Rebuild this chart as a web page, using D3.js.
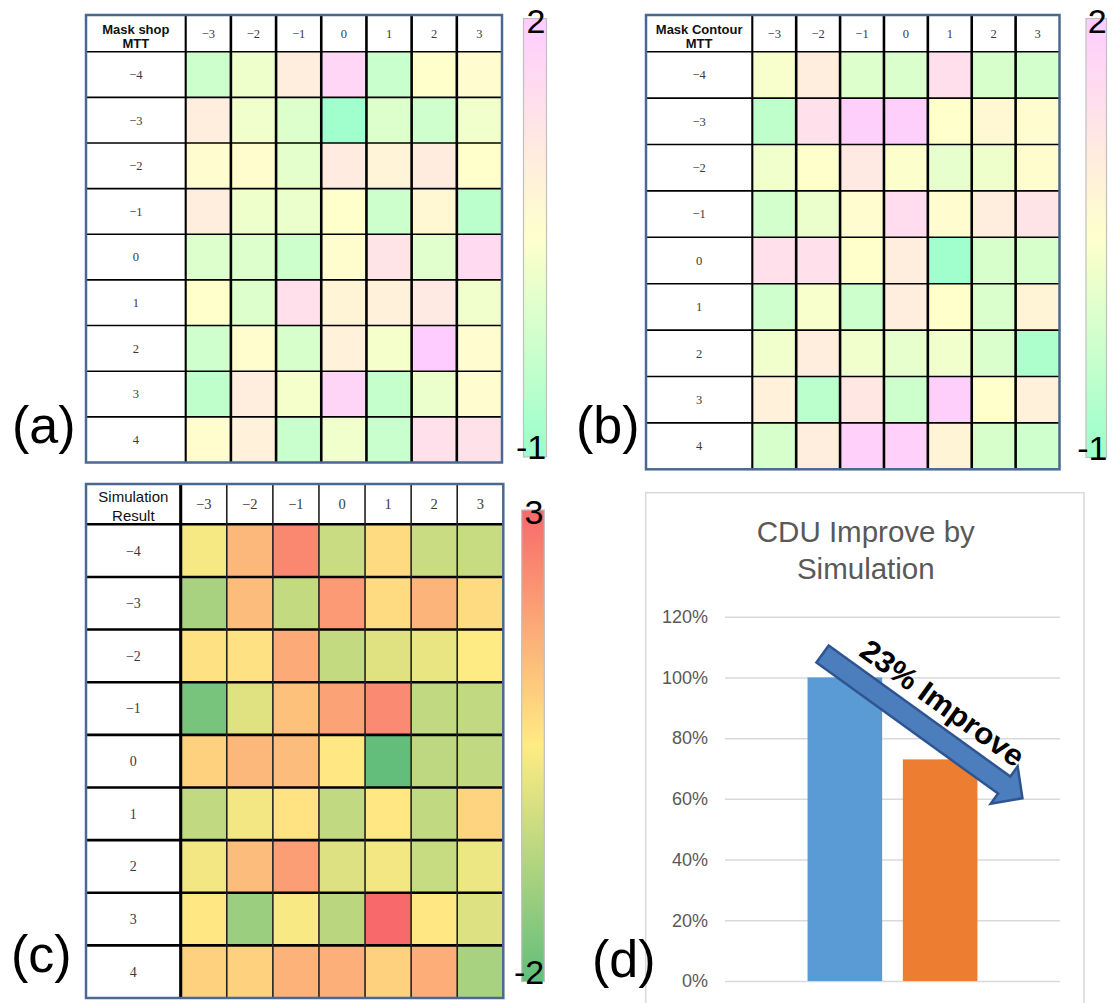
<!DOCTYPE html>
<html>
<head>
<meta charset="utf-8">
<script src="https://cdn.jsdelivr.net/npm/d3@7"></script>
<style>
  body { margin: 0; background: #fff; }
  svg { display: block; font-family: "Liberation Sans", Arial, sans-serif; }
</style>
</head>
<body>
<div id="main-frame"></div>
<script>
const cols = [-3, -2, -1, 0, 1, 2, 3];
const rows = [-4, -3, -2, -1, 0, 1, 2, 3, 4];

// (a) Mask shop MTT
const shopValues = [
  [-0.25, 0.25, 1.0, 1.7, -0.3, 0.5, 0.6],
  [1.0, 0.3, 0.0, -0.9, 0.0, -0.2, 0.3],
  [0.6, 0.55, 0.1, 1.1, 0.85, 1.05, 0.5],
  [1.0, 0.25, 0.2, 0.5, -0.25, 0.7, -0.5],
  [0.0, 0.0, -0.25, 0.55, 1.3, 0.05, 1.6],
  [0.5, 0.0, 1.4, 0.8, 0.9, 1.15, 0.3],
  [-0.2, 0.55, -0.1, 0.9, 0.35, 2.0, 0.6],
  [-0.45, 1.0, 0.35, 1.75, -0.35, 0.2, 0.6],
  [0.55, 0.9, -0.3, 0.3, -0.3, 1.4, 1.35]
];

// (b) Mask Contour MTT
const contourValues = [
  [0.4, 1.0, 0.0, -0.05, 1.45, -0.1, -0.15],
  [-0.45, 1.4, 1.9, 1.9, 0.5, 0.7, 0.6],
  [0.3, 0.5, 1.15, 0.45, 0.15, 0.25, 0.55],
  [-0.15, 0.2, 0.6, 1.5, 0.6, 1.0, 1.3],
  [1.4, 1.4, 0.5, 1.0, -0.9, -0.1, -0.1],
  [-0.2, 0.4, -0.25, 1.0, 0.5, -0.05, 0.8],
  [0.3, 1.0, 0.3, 0.15, 0.3, -0.05, -0.7],
  [0.9, -0.5, 1.2, -0.25, 1.9, 0.5, 0.9],
  [-0.1, 1.0, 1.85, 1.85, 0.8, -0.1, -0.2]
];

// (c) Simulation Result
const simValues = [
  [0.35, 1.5, 2.4, -0.35, 0.8, -0.35, -0.4],
  [-0.9, 1.4, -0.45, 2.05, 0.8, 1.55, 0.8],
  [0.7, 0.7, 1.75, -0.45, 0.0, 0.15, 0.5],
  [-1.65, 0.0, 1.3, 1.9, 2.35, -0.5, -0.5],
  [1.0, 1.5, 1.4, 0.55, -2.0, -0.55, -0.5],
  [-0.5, 0.3, 0.65, -0.5, 0.55, -0.5, 0.95],
  [0.3, 1.4, 2.0, -0.05, 0.3, -0.4, 0.2],
  [0.55, -1.1, 0.4, -0.6, 3.0, 0.55, -0.05],
  [1.0, 1.0, 1.6, 1.65, 1.0, 1.7, -0.9]
];

// (d) bar chart
const barSeries = ["Before", "After"];
const barValues = [1.0, 0.73];
const yTicks = [0, 0.2, 0.4, 0.6, 0.8, 1.0, 1.2];
const chartTitle = ["CDU Improve by", "Simulation"];
const arrowLabel = "23% Improve";

const width = 1115;
const height = 1003;

const svg = d3.select("#main-frame")
  .append("svg")
  .attr("width", width)
  .attr("height", height);

const defs = svg.append("defs");

const fmt = v => v < 0 ? "\u2212" + Math.abs(v) : String(v);

function drawHeatmap(o) {
  const g = svg.append("g");
  const x = d3.scaleBand().domain(cols).range([o.x0, o.x1]);
  const y = d3.scaleBand().domain(rows).range([o.y0, o.y1]);
  const color = d3.scaleLinear().domain(o.domain).range(o.colors);

  g.append("rect")
    .attr("x", o.left).attr("y", o.top)
    .attr("width", o.x1 - o.left).attr("height", o.y1 - o.top)
    .attr("fill", "#fff");

  const cells = [];
  o.values.forEach((row, i) => row.forEach((v, j) => cells.push({ r: rows[i], c: cols[j], v })));

  g.selectAll("rect.cell")
    .data(cells)
    .enter()
    .append("rect")
    .attr("class", "cell")
    .attr("x", d => x(d.c))
    .attr("y", d => y(d.r))
    .attr("width", x.bandwidth())
    .attr("height", y.bandwidth())
    .attr("fill", d => color(d.v));

  g.selectAll("text.col")
    .data(cols)
    .enter()
    .append("text")
    .attr("class", "col")
    .attr("x", d => x(d) + x.bandwidth() / 2)
    .attr("y", (o.top + o.y0) / 2)
    .attr("dy", "0.35em")
    .attr("text-anchor", "middle")
    .style("font-family", "'Liberation Serif', 'DejaVu Serif', serif")
    .style("font-size", o.colSize + "px")
    .attr("fill", "#3a3a3a")
    .text(fmt);

  g.selectAll("text.row")
    .data(rows)
    .enter()
    .append("text")
    .attr("class", "row")
    .attr("x", (o.left + o.x0) / 2)
    .attr("y", d => y(d) + y.bandwidth() / 2)
    .attr("dy", "0.35em")
    .attr("text-anchor", "middle")
    .style("font-family", "'Liberation Serif', 'DejaVu Serif', serif")
    .style("font-size", o.rowSize + "px")
    .attr("fill", "#3a3a3a")
    .text(fmt);

  const title = g.append("text")
    .attr("text-anchor", "middle")
    .style("font-size", o.titleSize + "px")
    .style("font-weight", o.titleWeight)
    .attr("fill", "#111");
  o.title.forEach((s, i) => {
    title.append("tspan")
      .attr("x", (o.left + o.x0) / 2)
      .attr("y", o.titleY[i])
      .text(s);
  });

  // horizontal lines
  g.selectAll("line.h")
    .data(rows)
    .enter()
    .append("line")
    .attr("x1", o.left).attr("x2", o.x1)
    .attr("y1", d => y(d)).attr("y2", d => y(d))
    .attr("stroke", "#000")
    .attr("stroke-width", o.hWidth);

  // vertical lines
  g.selectAll("line.v")
    .data(cols)
    .enter()
    .append("line")
    .attr("x1", d => x(d)).attr("x2", d => x(d))
    .attr("y1", o.top).attr("y2", o.y1)
    .attr("stroke", (d, i) => i === 0 ? "#000" : o.vColor)
    .attr("stroke-width", (d, i) => i === 0 ? o.hWidth + 0.5 : o.vWidth);

  // outer frame
  g.append("rect")
    .attr("x", o.left).attr("y", o.top)
    .attr("width", o.x1 - o.left).attr("height", o.y1 - o.top)
    .attr("fill", "none")
    .attr("stroke", "#4a6890")
    .attr("stroke-width", 2.5);

  // colour bar
  const cb = o.bar;
  const cbScale = d3.scaleLinear().domain(o.bar.range).range([cb.y1, cb.y0]);
  const gradId = "grad-" + o.id;
  const grad = defs.append("linearGradient")
    .attr("id", gradId)
    .attr("x1", 0).attr("y1", 1).attr("x2", 0).attr("y2", 0);
  d3.range(0, 1.0001, 0.1).forEach(t => {
    const v = cb.range[0] + t * (cb.range[1] - cb.range[0]);
    grad.append("stop").attr("offset", t).attr("stop-color", color(v));
  });
  svg.append("rect")
    .attr("x", cb.x0).attr("y", cbScale(cb.range[1]))
    .attr("width", cb.x1 - cb.x0)
    .attr("height", cbScale(cb.range[0]) - cbScale(cb.range[1]))
    .attr("fill", `url(#${gradId})`)
    .attr("stroke", "#c0c0c0")
    .attr("stroke-width", 1.2);

  svg.append("text")
    .attr("x", (cb.x0 + cb.x1) / 2 + 1)
    .attr("y", cbScale(cb.range[1]) + 14)
    .attr("text-anchor", "middle")
    .style("font-size", "34px")
    .text(cb.range[1]);
  svg.append("text")
    .attr("x", (cb.x0 + cb.x1) / 2 - 4)
    .attr("y", cbScale(cb.range[0]) + 2)
    .attr("text-anchor", "middle")
    .style("font-size", "34px")
    .text("-" + Math.abs(cb.range[0]));

  svg.append("text")
    .attr("x", o.panel.x)
    .attr("y", o.panel.y)
    .style("font-size", "52px")
    .text(o.panel.text);
}

const pastel = ["#99FFCC", "#FFFFCC", "#FFCCFF"];
const excel = ["#63BE7B", "#FFEB84", "#F8696B"];

drawHeatmap({
  id: "a", values: shopValues, domain: [-1, 0.5, 2], colors: pastel,
  left: 86, top: 15, x0: 185.7, x1: 502, y0: 51.7, y1: 462.5,
  title: ["Mask shop", "MTT"], titleY: [34, 48], titleSize: 13, titleWeight: "bold",
  colSize: 12.5, rowSize: 12.5, hWidth: 1.6, vWidth: 2.6, vColor: "#000",
  bar: { x0: 523.5, x1: 546.5, y0: 18.5, y1: 457, range: [-1, 2] },
  panel: { x: 12, y: 443, text: "(a)" }
});

drawHeatmap({
  id: "b", values: contourValues, domain: [-1, 0.5, 2], colors: pastel,
  left: 646, top: 15, x0: 752.3, x1: 1059.5, y0: 51.7, y1: 469.3,
  title: ["Mask Contour", "MTT"], titleY: [34, 48], titleSize: 13, titleWeight: "bold",
  colSize: 12.5, rowSize: 12.5, hWidth: 1.6, vWidth: 2.6, vColor: "#000",
  bar: { x0: 1086, x1: 1106.5, y0: 18.5, y1: 457.5, range: [-1, 2] },
  panel: { x: 576, y: 443, text: "(b)" }
});

drawHeatmap({
  id: "c", values: simValues, domain: [-2, 0.5, 3], colors: excel,
  left: 86, top: 484, x0: 180.7, x1: 503.3, y0: 524.3, y1: 998,
  title: ["Simulation", "Result"], titleY: [502, 521], titleSize: 15, titleWeight: "normal",
  colSize: 14.5, rowSize: 14, hWidth: 2.6, vWidth: 1.6, vColor: "#222",
  bar: { x0: 521.7, x1: 544.3, y0: 510, y1: 981.5, range: [-2, 3] },
  panel: { x: 11, y: 972, text: "(c)" }
});

// (d) bar chart
const chart = svg.append("g");

chart.append("rect")
  .attr("x", 645.7).attr("y", 492.7)
  .attr("width", 438.3).attr("height", 540)
  .attr("fill", "#fff")
  .attr("stroke", "#d9d9d9")
  .attr("stroke-width", 1.5);

const yScale = d3.scaleLinear().domain([0, 1.2]).range([981, 616.7]);
const x0 = d3.scaleBand().domain(["CDU"]).range([725, 1060]).padding(0.327);
const x1 = d3.scaleBand().domain(barSeries).range([0, x0.bandwidth()]).paddingInner(0.217);
const barColors = d3.scaleOrdinal().domain(barSeries).range(["#5B9BD5", "#ED7D31"]);

const yAxis = d3.axisLeft(yScale)
  .tickValues(yTicks)
  .tickSize(-(1060 - 725))
  .tickPadding(17)
  .tickFormat(d3.format(".0%"));

const yAxisG = chart.append("g")
  .attr("transform", "translate(725,0)")
  .call(yAxis);
yAxisG.select(".domain").remove();
yAxisG.selectAll(".tick line").attr("stroke", "#d9d9d9").attr("stroke-width", 1.5);
yAxisG.selectAll(".tick text")
  .attr("fill", "#595959")
  .style("font-size", "18px")
  .style("font-family", "'Liberation Sans', Arial, sans-serif");

chart.selectAll("rect.bar")
  .data(barSeries)
  .enter()
  .append("rect")
  .attr("class", "bar")
  .attr("x", d => x0("CDU") + x1(d))
  .attr("y", (d, i) => yScale(barValues[i]))
  .attr("width", x1.bandwidth())
  .attr("height", (d, i) => yScale(0) - yScale(barValues[i]))
  .attr("fill", d => barColors(d));

const titleText = chart.append("text")
  .attr("text-anchor", "middle")
  .attr("fill", "#595959")
  .style("font-size", "29.5px");
chartTitle.forEach((s, i) => {
  titleText.append("tspan").attr("x", 865.8).attr("y", 541.7 + i * 37.6).text(s);
});

// arrow annotation
const tail = [x0("CDU") + x1("Before") + 15, yScale(1.077)];
const tip = [x0("CDU") + x1("After") + x1.bandwidth() + 45, yScale(0.602)];
const dx = tip[0] - tail[0];
const dy = tip[1] - tail[1];
const len = Math.hypot(dx, dy);
const angle = Math.atan2(dy, dx) * 180 / Math.PI;
const hw = 10.5, hh = 23, hl = 22.5;

const arrow = chart.append("g")
  .attr("transform", `translate(${tail[0]},${tail[1]}) rotate(${angle})`);

arrow.append("path")
  .attr("d", d3.line()([
    [0, -hw], [len - hl, -hw], [len - hl, -hh], [len, 0],
    [len - hl, hh], [len - hl, hw], [0, hw]
  ]) + "Z")
  .attr("fill", "#4c7dbd")
  .attr("stroke", "#2f5591")
  .attr("stroke-width", 2.5)
  .attr("stroke-linejoin", "miter");

arrow.append("text")
  .attr("x", 29)
  .attr("y", -20)
  .style("font-size", "30px")
  .style("font-weight", "bold")
  .attr("textLength", 194)
  .attr("lengthAdjust", "spacingAndGlyphs")
  .text(arrowLabel);

svg.append("text")
  .attr("x", 592)
  .attr("y", 977)
  .style("font-size", "52px")
  .text("(d)");
</script>
</body>
</html>
